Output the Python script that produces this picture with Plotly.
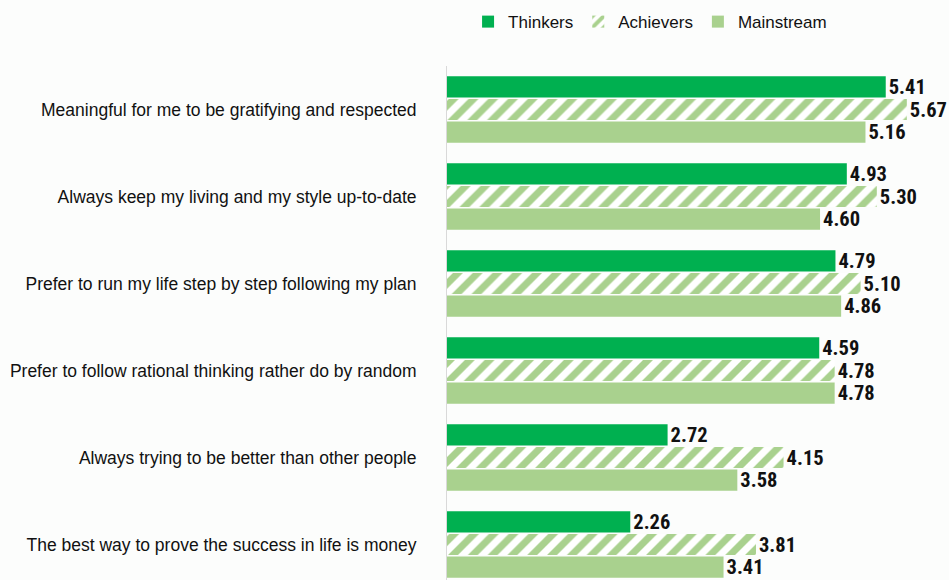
import plotly.graph_objects as go

categories = [
    "Meaningful for me to be gratifying and respected",
    "Always keep my living and my style up-to-date",
    "Prefer to run my life step by step following my plan",
    "Prefer to follow rational thinking rather do by random",
    "Always trying to be better than other people",
    "The best way to prove the success in life is money",
]
thinkers = [5.41, 4.93, 4.79, 4.59, 2.72, 2.26]
achievers = [5.67, 5.30, 5.10, 4.78, 4.15, 3.81]
mainstream = [5.16, 4.60, 4.86, 4.78, 3.58, 3.41]

green = "#00B050"
light_green = "#A9D18E"
bg = "#fcfdfc"
label_font = dict(family="Roboto Condensed, Roboto, DejaVu Sans Condensed, sans-serif",
                  size=20.5, color="#111111", weight="bold")

fig = go.Figure()
fig.add_trace(go.Bar(
    name="Thinkers", y=categories, x=thinkers, orientation="h",
    marker=dict(color=green, line=dict(width=0)),
    text=[f"{v:.2f}" for v in thinkers], textposition="outside",
    textfont=label_font, constraintext="none", cliponaxis=False,
))
fig.add_trace(go.Bar(
    name="Achievers", y=categories, x=achievers, orientation="h",
    marker=dict(color="white", line=dict(width=0),
                pattern=dict(shape="/", fgcolor=light_green, bgcolor="white",
                             size=14, solidity=0.5, fillmode="replace")),
    text=[f"{v:.2f}" for v in achievers], textposition="outside",
    textfont=label_font, constraintext="none", cliponaxis=False,
))
fig.add_trace(go.Bar(
    name="Mainstream", y=categories, x=mainstream, orientation="h",
    marker=dict(color=light_green, line=dict(width=0)),
    text=[f"{v:.2f}" for v in mainstream], textposition="outside",
    textfont=label_font, constraintext="none", cliponaxis=False,
))

fig.update_layout(
    width=949, height=580,
    margin=dict(l=447, r=0, t=66, b=0),
    paper_bgcolor=bg, plot_bgcolor=bg,
    barmode="group", bargap=0.22, bargroupgap=0.07,
    font=dict(family="Liberation Sans, Arial, sans-serif", size=17, color="#111111"),
    showlegend=True,
    legend=dict(orientation="h", xref="container", yref="container",
                x=0.685, xanchor="center", y=0.993, yanchor="top",
                font=dict(size=17), traceorder="normal",
                bgcolor="rgba(0,0,0,0)", itemwidth=30),
    xaxis=dict(range=[0, 6.19], showgrid=False, zeroline=False,
               showticklabels=False, ticks="", showline=False),
    yaxis=dict(categoryorder="array", categoryarray=categories,
               range=[5.408, -0.5], showgrid=False, zeroline=False,
               showline=True, linecolor="#d9d9d9", linewidth=1,
               ticks="", ticklabelstandoff=26, tickfont=dict(size=17.5)),
)

fig.write_html("out.html")
